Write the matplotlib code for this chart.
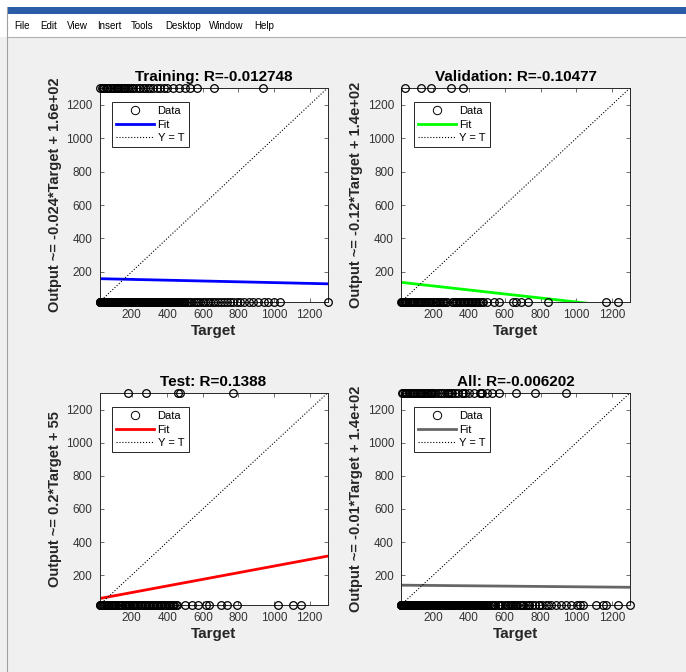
import numpy as np
import matplotlib
matplotlib.use('Agg')
import matplotlib.pyplot as plt
from matplotlib.lines import Line2D
from matplotlib.patches import Rectangle

plt.rcParams['font.family'] = ['Liberation Sans', 'DejaVu Sans']

# limits of targets / outputs
lo, hi = 20, 1300

# target values of the samples whose output sits at the low / high end
train_lo = [21, 23, 25, 27, 30, 32, 34, 36, 38, 40, 42, 45, 47, 50, 52, 55, 58, 60, 63, 66, 69,
            72, 75, 78, 81, 84, 88, 91, 94, 97, 101, 104, 108, 111, 115, 118, 122, 126, 130, 133,
            137, 141, 145, 148, 152, 156, 160, 164, 168, 172, 176, 180, 185, 189, 193, 197, 201,
            205, 210, 214, 219, 223, 228, 232, 236, 240, 245, 250, 254, 258, 263, 268, 272, 277,
            282, 286, 291, 296, 300, 305, 310, 315, 320, 325, 329, 334, 339, 344, 349, 354, 358,
            363, 368, 373, 378, 384, 389, 394, 399, 405, 410, 416, 421, 426, 431, 437, 442, 448,
            453, 459, 464, 470, 476, 482, 487, 493, 499, 511, 523, 536, 548, 560, 573, 586, 600,
            613, 627, 641, 656, 670, 686, 701, 717, 734, 752, 771, 790, 808, 832, 858, 884, 912,
            945, 968, 1002, 1036, 1300]
train_hi = [25, 32, 40, 48, 55, 62, 70, 80, 90, 100, 110, 118, 125, 132, 140, 150, 158, 165, 172,
            180, 190, 200, 210, 225, 240, 250, 262, 275, 290, 305, 320, 340, 360, 380, 400, 430,
            465, 500, 530, 565, 660, 940]
val_lo = [20, 24, 28, 32, 36, 40, 45, 50, 55, 62, 68, 75, 82, 88, 94, 100, 110, 118, 125, 132,
          140, 150, 156, 162, 170, 175, 182, 190, 200, 208, 215, 224, 232, 240, 248, 255, 262,
          270, 277, 305, 312, 320, 328, 335, 342, 350, 358, 365, 372, 380, 388, 395, 402, 410,
          418, 425, 432, 440, 450, 460, 470, 480, 500, 540, 570, 645, 665, 690, 730, 840, 1165,
          1235]
val_hi = [42, 133, 189, 301, 366]
test_lo = [20, 25, 30, 35, 40, 45, 50, 56, 62, 68, 75, 82, 88, 94, 100, 108, 115, 122, 128, 134,
           140, 148, 155, 162, 170, 178, 185, 192, 200, 208, 215, 222, 230, 238, 245, 252, 260,
           268, 275, 282, 290, 298, 305, 312, 320, 328, 335, 342, 350, 358, 365, 372, 380, 388,
           395, 402, 410, 418, 425, 432, 440, 448, 455, 500, 540, 575, 620, 635, 700, 735, 790,
           1022, 1108, 1150]
test_hi = [180, 281, 462, 470, 770]

# fit: output ~= m*target + b
names = ['Training', 'Validation', 'Test', 'All']
r_vals = ['-0.012748', '-0.10477', '0.1388', '-0.006202']
slopes = [-0.024, -0.12, 0.2, -0.01]
inter = [160, 140, 55, 140]
ylabels = ['Output ~= -0.024*Target + 1.6e+02', 'Output ~= -0.12*Target + 1.4e+02',
           'Output ~= 0.2*Target + 55', 'Output ~= -0.01*Target + 1.4e+02']
colors = ['#0000ff', '#00ff00', '#ff0000', '#666666']

sets_lo = [train_lo, val_lo, test_lo, train_lo + val_lo + test_lo]
sets_hi = [train_hi, val_hi, test_hi, train_hi + val_hi + test_hi]

W, H = 686, 672
fig = plt.figure(figsize=(W / 100, H / 100), dpi=100)
fig.patch.set_facecolor('#f0f0f0')

# window chrome
fig.patches.append(Rectangle((0, 1 - 37 / H), 1, 37 / H, transform=fig.transFigure,
                             facecolor='white', edgecolor='none', zorder=0))
fig.patches.append(Rectangle((7 / W, 1 - 14 / H), 1, 7 / H, transform=fig.transFigure,
                             facecolor='#2b5ca8', edgecolor='none', zorder=1))
fig.add_artist(Line2D([7 / W, 1], [1 - 37 / H] * 2, color='#b0b0b0', lw=0.8))
fig.add_artist(Line2D([7 / W] * 2, [0, 1 - 7 / H], color='#a0a0a0', lw=0.8))
menu = [('File', 14), ('Edit', 40), ('View', 67), ('Insert', 97), ('Tools', 131),
        ('Desktop', 165), ('Window', 209), ('Help', 254)]
for lab, x in menu:
    fig.text(x / W, 1 - 26 / H, lab, fontsize=7, va='center', ha='left', color='black')

boxes = [(99.5, 88, 228, 214), (401, 88, 229, 214), (99.5, 393, 228, 212), (401, 393, 229, 212)]

for i in range(4):
    x0, y0, w, h = boxes[i]
    ax = fig.add_axes([x0 / W, 1 - (y0 + h) / H, w / W, h / H])
    ax.set_xlim(lo, hi)
    ax.set_ylim(lo, hi)
    t_all = np.array(sets_lo[i] + sets_hi[i])
    o_all = np.array([lo] * len(sets_lo[i]) + [hi] * len(sets_hi[i]))
    ax.plot(t_all, o_all, 'o', mfc='none', mec='black', ms=5.5, mew=0.9, clip_on=False, zorder=3)
    xs = np.array([lo, hi])
    ax.plot(xs, slopes[i] * xs + inter[i], color=colors[i], lw=2, zorder=2)
    ax.plot(xs, xs, ':', color='black', lw=0.8, zorder=2)
    ax.set_xticks([200, 400, 600, 800, 1000, 1200])
    ax.set_yticks([200, 400, 600, 800, 1000, 1200])
    ax.tick_params(direction='in', top=True, right=True, length=3, width=0.5,
                   labelsize=8.5, labelcolor='#333333', color='#333333', pad=5)
    for s in ax.spines.values():
        s.set_linewidth(0.7)
        s.set_color('#262626')
    ax.set_title(names[i] + ': R=' + r_vals[i], fontsize=11, fontweight='bold', pad=5)
    ax.set_xlabel('Target', fontsize=11, fontweight='bold', color='#262626', labelpad=2)
    ax.set_ylabel(ylabels[i], fontsize=10.5, fontweight='bold', color='#262626', labelpad=3)

    handles = [Line2D([], [], ls='none', marker='o', mfc='none', mec='black', ms=6, mew=0.7),
               Line2D([], [], color=colors[i], lw=2),
               Line2D([], [], color='black', ls=':', lw=0.8)]
    leg = ax.legend(handles, ['Data', 'Fit', 'Y = T'], loc='upper left',
                    bbox_to_anchor=(0.055, 0.935), borderaxespad=0, fontsize=8,
                    fancybox=False, framealpha=1, edgecolor='#262626', handlelength=3.4,
                    handletextpad=0.3, labelspacing=0.3, borderpad=0.4)
    leg.get_frame().set_linewidth(0.7)

fig.savefig('out.png', dpi=100, facecolor=fig.get_facecolor())
